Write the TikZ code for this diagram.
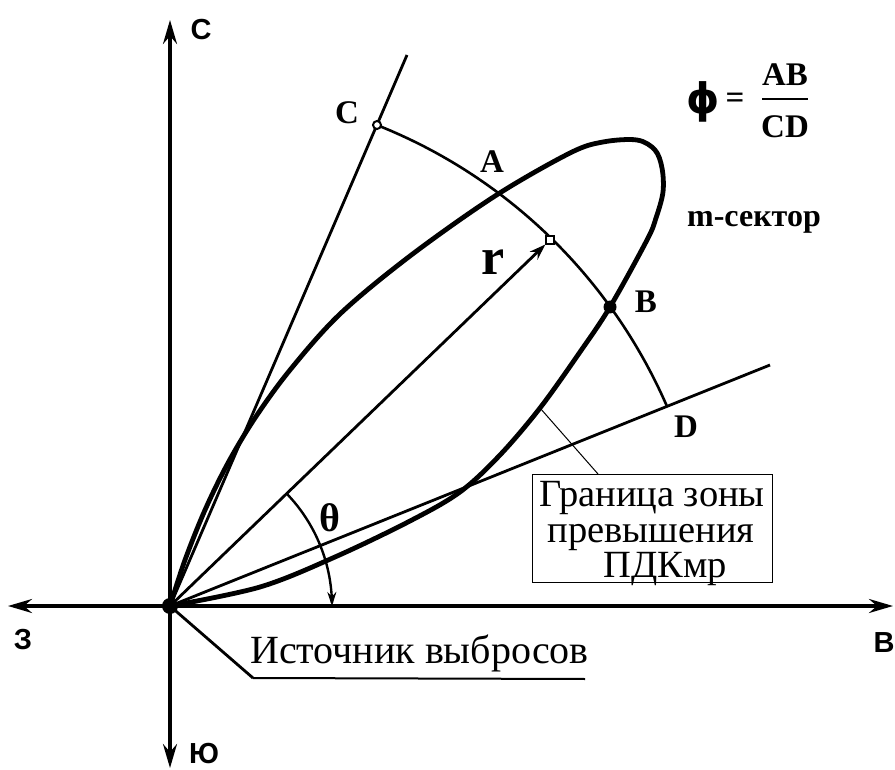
\documentclass[tikz,border=0pt]{standalone}
\usepackage{fontspec}
\setmainfont{Liberation Serif}
\newfontfamily\axisfont{Liberation Sans}
\newfontfamily\symfont{DejaVu Sans}
\usetikzlibrary{arrows.meta}
\begin{document}
\begin{tikzpicture}[x=1pt,y=-1pt,
  axis/.style={line width=3.2pt,-{Stealth[length=24pt,width=14pt,inset=8pt]}},
  ray/.style={line width=2.8pt},
  lobe/.style={line width=4.8pt, line join=round},
  ptlabel/.style={font=\fontsize{33}{33}\selectfont\bfseries, inner sep=0pt},
  axlabel/.style={font=\axisfont\fontsize{29}{29}\selectfont\bfseries, inner sep=0pt},
  plain/.style={font=\fontsize{40}{35}\selectfont, inner sep=0pt},
  boxline/.style={font=\fontsize{38.5}{35}\selectfont, inner sep=0pt, anchor=base, text height=26pt, text depth=5pt},
  frm/.style={font=\fontsize{33}{33}\selectfont\bfseries, inner sep=0pt},
]
\useasboundingbox (0,0) rectangle (895,770);
% key points
\coordinate (O) at (170,606);
\coordinate (W) at (8,606);
\coordinate (E) at (893,606);
\coordinate (N) at (170,20);
\coordinate (S) at (170,768);
\coordinate (Cend) at (407,55);
\coordinate (C) at (377,125);
\coordinate (Dend) at (770,365);
\coordinate (D) at (667,406.4);
\coordinate (B) at (610,307);
\coordinate (Q) at (540,408);
\coordinate (Qb) at (598,474);
\coordinate (L1) at (253,678);
\coordinate (L2) at (585,679);
\coordinate (F1) at (762,99);
\coordinate (F2) at (808,99);

% axes
\draw[axis] (O) -- (W);
\draw[axis] (O) -- (E);
\draw[axis] (O) -- (N);
\draw[axis] (O) -- (S);

% rays
\draw[ray] (O) -- (Cend);
\draw[ray] (O) -- (Dend);

% sector lobe
\draw[lobe] plot[smooth, tension=0.55] coordinates {
 (170,606) (260,587) (335,557) (410,521) (460,492) (500,455) (540,408)
 (580,352) (610,307) (647,240) (656,218) (663,192) (662,168)
 (655,150) (637,140) (603,142) (570,153) (495,196) (410,256) (340,314)
 (290,370) (255,418) (228,463) (205,510) (185,560) (170,606)};

% arc C-D
\draw[line width=2.6pt] plot[domain=66.72:21.88, samples=80, variable=\t]
 ({170+(523.6+(66.72-\t)*0.268)*cos(\t)}, {606-(523.6+(66.72-\t)*0.268)*sin(\t)});

% r vector
\node[draw, fill=white, line width=1.4pt, minimum size=8pt, inner sep=0pt] (R) at (550,240) {};
\draw[line width=2.8pt, -{Stealth[length=16pt,width=11pt]}] (O) -- (R);

% theta arc
\draw[line width=2.4pt, -{Stealth[length=14pt,width=9pt]}]
 plot[domain=43.9:0, samples=40, variable=\t] ({170+162*cos(\t)},{606-162*sin(\t)});

% points
\fill (O) circle (8);
\fill (B) circle (6.5);
\draw[line width=2pt, fill=white] (C) circle (4);

% labels
\node[axlabel] (lN) at (201,30) {С};
\node[axlabel] (lW) at (23,640) {З};
\node[axlabel] (lS) at (204,754) {Ю};
\node[axlabel] (lE) at (884,643) {В};

\node[ptlabel] (lC) at (347,113) {C};
\node[ptlabel] (lA) at (492,162) {A};
\node[ptlabel] (lB) at (646,302) {B};
\node[ptlabel] (lD) at (686,427) {D};
\node[font=\fontsize{32}{32}\selectfont\bfseries, inner sep=0pt] (lm) at (754,222) {m-сектор};
\node[font=\fontsize{52}{52}\selectfont\bfseries, inner sep=0pt] (lr) at (493,262) {r};
\node[font=\fontsize{40}{40}\selectfont\bfseries, inner sep=0pt] (lt) at (330,518) {θ};

% formula
\node[font=\symfont\fontsize{42}{42}\selectfont\bfseries, inner sep=0pt] (lphi) at (703,102) {ϕ};
\node[frm] (leq) at (735,101) {=};
\node[frm] (AB) at (785,75) {AB};
\node[frm] (CD) at (785,127) {CD};
\draw[line width=2.8pt] (F1) -- (F2);

% boundary box
\node[draw, line width=1pt, minimum width=240pt, minimum height=108pt, inner sep=0pt] (box) at (652,528) {};
\node[boxline] (bt1) at (652,506) {Граница зоны};
\node[boxline] (bt2) at (651,542) {превышения};
\node[boxline] (bt3) at (665,577) {ПДКмр};
\draw[line width=1pt] (Q) -- (Qb);

% source label
\node[plain, anchor=base west] (src) at (250,663) {Источник выбросов};
\draw[line width=2.8pt] (O) -- (L1);
\draw[line width=2pt] (L1) -- (L2);
\end{tikzpicture}
\end{document}
